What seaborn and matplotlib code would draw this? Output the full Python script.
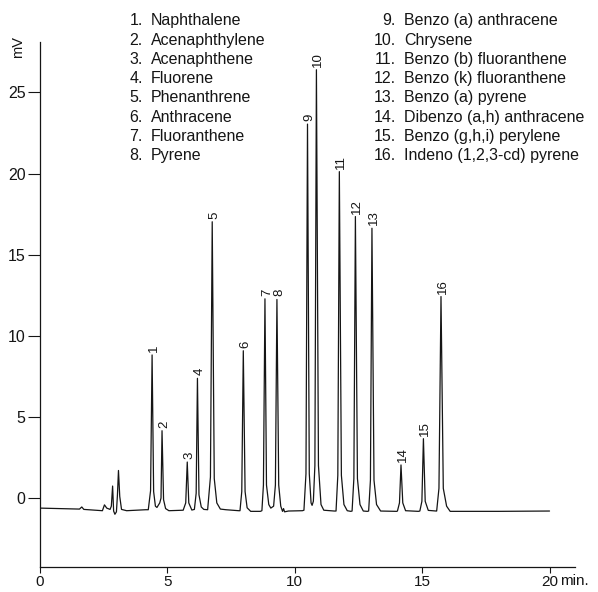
import matplotlib
matplotlib.use("Agg")
import matplotlib.pyplot as plt
import seaborn as sns
import pandas as pd

# ---------------- data ----------------
compounds = [
    "Naphthalene", "Acenaphthylene", "Acenaphthene", "Fluorene",
    "Phenanthrene", "Anthracene", "Fluoranthene", "Pyrene",
    "Benzo (a) anthracene", "Chrysene", "Benzo (b) fluoranthene",
    "Benzo (k) fluoranthene", "Benzo (a) pyrene", "Dibenzo (a,h) anthracene",
    "Benzo (g,h,i) perylene", "Indeno (1,2,3-cd) pyrene",
]
peak_time = [4.40, 4.79, 5.78, 6.18, 6.76, 7.98, 8.83, 9.30,
             10.50, 10.85, 11.75, 12.38, 13.03, 14.17, 15.05, 15.74]
peak_mv = [8.82, 4.15, 2.22, 7.38, 17.03, 9.08, 12.28, 12.24,
           23.05, 26.40, 20.12, 17.35, 16.63, 2.04, 3.66, 12.42]

# chromatogram trace vertices (time in min, signal in mV)
trace_time = [
    0.00, 1.55, 1.64, 1.72, 2.45, 2.53, 2.62, 2.75, 2.80, 2.85, 2.89, 2.94,
    3.00, 3.04, 3.08, 3.13, 3.20, 3.40, 4.15,
    4.25, 4.34, 4.40, 4.46, 4.53, 4.59,
    4.70, 4.75, 4.79, 4.85, 4.93, 5.06,
    5.62, 5.72, 5.78, 5.84, 5.96,
    6.06, 6.13, 6.18, 6.24, 6.33, 6.43,
    6.58, 6.69, 6.76, 6.84, 6.94, 7.08, 7.30, 7.80,
    7.85, 7.92, 7.98, 8.05, 8.13, 8.27, 8.65,
    8.71, 8.77, 8.83, 8.89, 8.98, 9.06,
    9.17, 9.24, 9.30, 9.37, 9.45, 9.52, 9.56, 9.60, 9.75, 10.30,
    10.36, 10.44, 10.50, 10.57, 10.64, 10.68,
    10.73, 10.79, 10.85, 10.93, 11.03, 11.14, 11.55,
    11.62, 11.69, 11.75, 11.83, 11.93, 12.06, 12.20,
    12.25, 12.32, 12.38, 12.46, 12.56, 12.69, 12.85,
    12.90, 12.97, 13.03, 13.11, 13.21, 13.37, 14.00,
    14.03, 14.11, 14.17, 14.24, 14.35, 14.85,
    14.91, 14.99, 15.05, 15.12, 15.24, 15.55,
    15.57, 15.66, 15.74, 15.83, 15.96, 16.10, 18.00, 20.00,
]
trace_mv = [
    -0.62, -0.68, -0.55, -0.70, -0.78, -0.42, -0.62, -0.70, -0.50, 0.74, -0.80, -1.00,
    -0.85, 0.20, 1.70, 0.10, -0.70, -0.78, -0.72,
    -0.72, 0.45, 8.82, 0.40, -0.50, -0.58,
    -0.30, 0.00, 4.15, -0.10, -0.65, -0.78,
    -0.75, -0.30, 2.22, -0.30, -0.74,
    -0.70, 0.30, 7.38, 0.20, -0.55, -0.70,
    -0.72, 1.30, 17.03, 1.20, -0.30, -0.68, -0.72, -0.78,
    -0.78, 0.40, 9.08, 0.40, -0.60, -0.82, -0.82,
    -0.78, 0.80, 12.28, 0.80, -0.40, -0.62,
    -0.50, 0.80, 12.24, 0.80, -0.50, -0.82, -0.65, -0.85, -0.80, -0.78,
    -0.75, 1.50, 23.05, 1.50, -0.30, -0.45,
    -0.20, 2.00, 26.40, 2.00, -0.40, -0.75, -0.80,
    -0.80, 1.40, 20.12, 1.40, -0.40, -0.78, -0.82,
    -0.80, 1.20, 17.35, 1.20, -0.40, -0.80, -0.82,
    -0.80, 1.10, 16.63, 1.10, -0.40, -0.80, -0.82,
    -0.80, -0.30, 2.04, -0.30, -0.78, -0.82,
    -0.80, -0.20, 3.66, -0.20, -0.76, -0.80,
    -0.80, 0.60, 12.42, 0.60, -0.50, -0.82, -0.82, -0.80,
]
x_ticks = [0, 5, 10, 15, 20]
y_ticks = [0, 5, 10, 15, 20, 25]

# ---------------- style ----------------
sns.set_theme(style="ticks")
plt.rcParams["font.family"] = ["Liberation Sans", "DejaVu Sans"]

INK = "#151515"
W, H = 598, 592
fig = plt.figure(figsize=(W / 100, H / 100), dpi=100)
ax = fig.add_axes([40 / W, (H - 567) / H, (575 - 40) / W, (567 - 42) / H])

df = pd.DataFrame({"time": trace_time, "mV": trace_mv})
sns.lineplot(data=df, x="time", y="mV", ax=ax, sort=False, estimator=None,
             color=INK, linewidth=0.9)

ax.set_xlim(0, 21.0)
ax.set_ylim(-4.25, 28.11)
ax.set_xticks(x_ticks)
ax.set_xticklabels([str(v) for v in x_ticks])
ax.set_yticks(y_ticks)
ax.set_yticklabels([str(v) for v in y_ticks])
ax.set_xlabel("")
ax.set_ylabel("")
for s in ["top", "right"]:
    ax.spines[s].set_visible(False)
for s in ["left", "bottom"]:
    ax.spines[s].set_color(INK)
    ax.spines[s].set_linewidth(0.9)
ax.tick_params(axis="y", direction="out", length=8.5, width=0.8, pad=2,
               labelsize=11.5, color=INK, labelcolor=INK)
ax.tick_params(axis="x", direction="out", length=4.5, width=0.8, pad=1,
               labelsize=11, color=INK, labelcolor=INK)

# "min." after the 20 tick label
ax.annotate("min.", xy=(20, 0), xycoords=("data", "axes fraction"),
            xytext=(11, -7.4), textcoords="offset pixels", ha="left", va="top",
            fontsize=11, color=INK)

# y unit label
fig.text(18 / W, 1 - 47 / H, "mV", rotation=90, ha="center", va="center",
         fontsize=10.5, color=INK)

# peak numbers
for i, (t, v) in enumerate(zip(peak_time, peak_mv), start=1):
    ax.annotate(str(i), xy=(t, v), xytext=(2, 3), textcoords="offset pixels",
                rotation=90, ha="center", va="bottom", fontsize=9.5,
                color=INK, annotation_clip=False)

# compound list (two columns)
line0, step = 20.9, 19.25
for i, name in enumerate(compounds):
    col = 0 if i < 8 else 1
    row = i if i < 8 else i - 8
    y = 1 - (line0 + row * step) / H
    xn = (143 if col == 0 else 396) / W
    xt = (151 if col == 0 else 404) / W
    fig.text(xn, y, f"{i + 1}.", ha="right", va="center", fontsize=11.5,
             color=INK)
    fig.text(xt, y, name, ha="left", va="center", fontsize=11.5, color=INK)

fig.savefig("out.png", dpi=100)
